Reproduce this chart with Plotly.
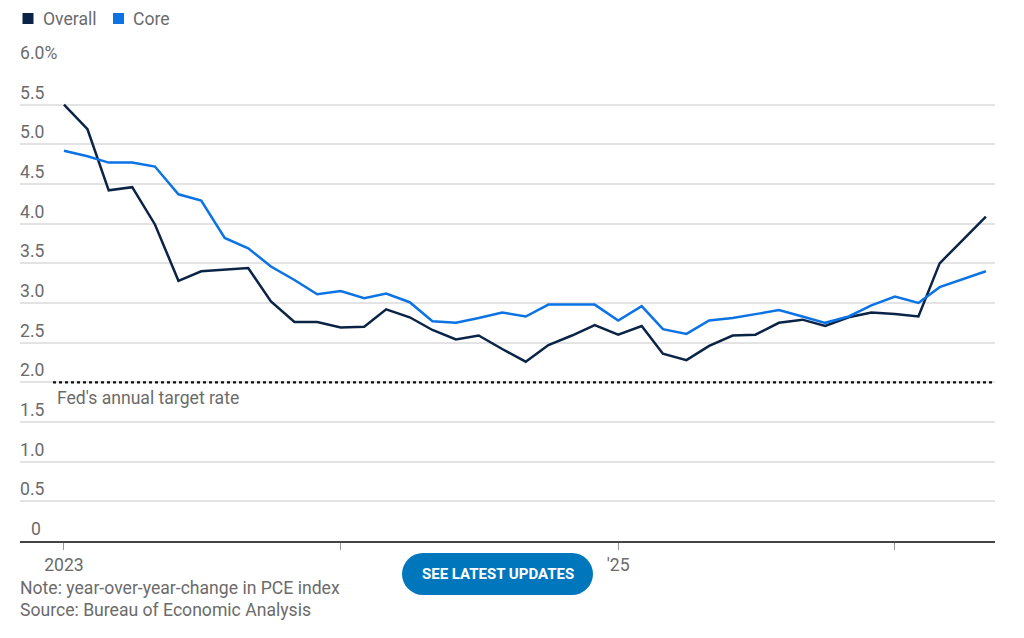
import plotly.graph_objects as go

months = [f"{y}-{m:02d}-01" for y in (2023, 2024, 2025, 2026) for m in range(1, 13)][:41]

overall = [5.50, 5.19, 4.42, 4.46, 3.99, 3.28, 3.40, 3.42, 3.44, 3.02, 2.76, 2.76,
           2.69, 2.70, 2.92, 2.82, 2.66, 2.54, 2.59, 2.42, 2.26, 2.47, 2.59, 2.72,
           2.60, 2.71, 2.36, 2.28, 2.46, 2.59, 2.60, 2.75, 2.79, 2.71, 2.82, 2.88,
           2.86, 2.83, 3.50, 3.80, 4.09]
core = [4.92, 4.85, 4.77, 4.77, 4.72, 4.37, 4.29, 3.82, 3.69, 3.46, 3.29, 3.11,
        3.15, 3.06, 3.12, 3.01, 2.77, 2.75, 2.81, 2.88, 2.83, 2.98, 2.98, 2.98,
        2.78, 2.96, 2.67, 2.61, 2.78, 2.81, 2.86, 2.91, 2.83, 2.75, 2.83, 2.97,
        3.08, 3.00, 3.20, 3.30, 3.40]

y_ticks = [0, 0.5, 1.0, 1.5, 2.0, 2.5, 3.0, 3.5, 4.0, 4.5, 5.0, 5.5, 6.0]
y_tick_text = ["0", "0.5", "1.0", "1.5", "2.0", "2.5", "3.0", "3.5", "4.0", "4.5", "5.0", "5.5", "6.0%"]
x_ticks = ["2023-01-01", "2024-01-01", "2025-01-01", "2026-01-01"]
x_tick_text = ["2023", "", "'25", ""]
target_rate = 2.0

NAVY = "#0b2446"
BLUE = "#0b73e3"
GRAY = "#6b6b6b"
FONT = "Roboto"
FS = 17.6

fig = go.Figure()
fig.add_trace(go.Scatter(x=months, y=overall, mode="lines", name="Overall",
                         line=dict(color=NAVY, width=2.5)))
fig.add_trace(go.Scatter(x=months, y=core, mode="lines", name="Core",
                         line=dict(color=BLUE, width=2.5)))

# page has an 8px body offset; layout below is in screen pixels
OFF = 8
W, H = 1024 - OFF, 638 - OFF
L_s, R_s, T_s, B_s = 20, 995, 65, 541  # plot area in screen pixels
pw = R_s - L_s
ph = B_s - T_s

def px_x(px):
    return (px - L_s) / pw

def px_y(py):
    return (B_s - py) / ph

# target line
fig.add_shape(type="line", xref="paper", yref="y", x0=px_x(53), x1=1,
              y0=target_rate, y1=target_rate,
              line=dict(color="#111111", width=2.2, dash="dot"), layer="above")

annotations = []
# y tick labels (above gridlines)
for v, t in zip(y_ticks, y_tick_text):
    if t == "0":
        annotations.append(dict(x=px_x(43), xref="paper", y=v, yref="y", text=t,
                                xanchor="right", yanchor="bottom", yshift=0, showarrow=False,
                                font=dict(family=FONT, size=FS, color=GRAY)))
    else:
        annotations.append(dict(x=0, xref="paper", y=v, yref="y", text=t,
                                xanchor="left", yanchor="bottom", yshift=0, showarrow=False,
                                xshift=-2,
                                font=dict(family=FONT, size=FS, color=GRAY)))

annotations.append(dict(x=px_x(55), xref="paper", y=target_rate, yref="y",
                        text="Fed's annual target rate", xanchor="left", yanchor="top",
                        yshift=-4, showarrow=False,
                        font=dict(family=FONT, size=FS, color=GRAY)))

# legend
for (sx, col, label, tx) in [(22.5, NAVY, "Overall", 40.5), (113, BLUE, "Core", 131)]:
    fig.add_shape(type="rect", xref="paper", yref="paper",
                  x0=px_x(sx), x1=px_x(sx + 11), y0=px_y(24), y1=px_y(13),
                  fillcolor=col, line=dict(width=0), layer="above")
    annotations.append(dict(x=px_x(tx), xref="paper", y=px_y(19.5), yref="paper",
                            text=label, xanchor="left", yanchor="middle", showarrow=False,
                            font=dict(family=FONT, size=FS, color=GRAY)))

# notes
annotations.append(dict(x=px_x(18), xref="paper", y=px_y(588), yref="paper",
                        text="Note: year-over-year-change in PCE index",
                        xanchor="left", yanchor="middle", showarrow=False,
                        font=dict(family=FONT, size=FS, color=GRAY)))
annotations.append(dict(x=px_x(18), xref="paper", y=px_y(610), yref="paper",
                        text="Source: Bureau of Economic Analysis",
                        xanchor="left", yanchor="middle", showarrow=False,
                        font=dict(family=FONT, size=FS, color=GRAY)))

# button
BTN = "#0077bd"
bx0, bx1, by0, by1 = 402, 593, 553, 595
r = (by1 - by0) / 2
fig.add_shape(type="rect", xref="paper", yref="paper",
              x0=px_x(bx0 + r), x1=px_x(bx1 - r), y0=px_y(by1), y1=px_y(by0),
              fillcolor=BTN, line=dict(width=0), layer="above")
fig.add_shape(type="circle", xref="paper", yref="paper",
              x0=px_x(bx0), x1=px_x(bx0 + 2 * r), y0=px_y(by1), y1=px_y(by0),
              fillcolor=BTN, line=dict(width=0), layer="above")
fig.add_shape(type="circle", xref="paper", yref="paper",
              x0=px_x(bx1 - 2 * r), x1=px_x(bx1), y0=px_y(by1), y1=px_y(by0),
              fillcolor=BTN, line=dict(width=0), layer="above")
annotations.append(dict(x=px_x((bx0 + bx1) / 2), xref="paper", y=px_y((by0 + by1) / 2),
                        yref="paper", text="<b>SEE LATEST UPDATES</b>",
                        xanchor="center", yanchor="middle", showarrow=False,
                        font=dict(family=FONT, size=15, color="white")))

fig.update_layout(
    width=W, height=H,
    margin=dict(l=L_s - OFF, r=1024 - R_s, t=T_s - OFF, b=638 - B_s),
    paper_bgcolor="white", plot_bgcolor="white",
    showlegend=False,
    annotations=annotations,
    xaxis=dict(type="date", range=["2022-11-04", "2026-05-13"],
               tickvals=x_ticks, ticktext=x_tick_text,
               showgrid=False, zeroline=False,
               showline=True, linecolor="#444444", linewidth=2,
               ticks="outside", ticklen=7, tickcolor="#999999", tickwidth=1,
               tickfont=dict(family=FONT, size=FS, color=GRAY)),
    yaxis=dict(range=[0, 6], tickvals=y_ticks, showticklabels=False,
               showgrid=True, gridcolor="#e3e3e3", gridwidth=1.5,
               zeroline=False, showline=False, fixedrange=True),
)

fig.write_html("out.html")
